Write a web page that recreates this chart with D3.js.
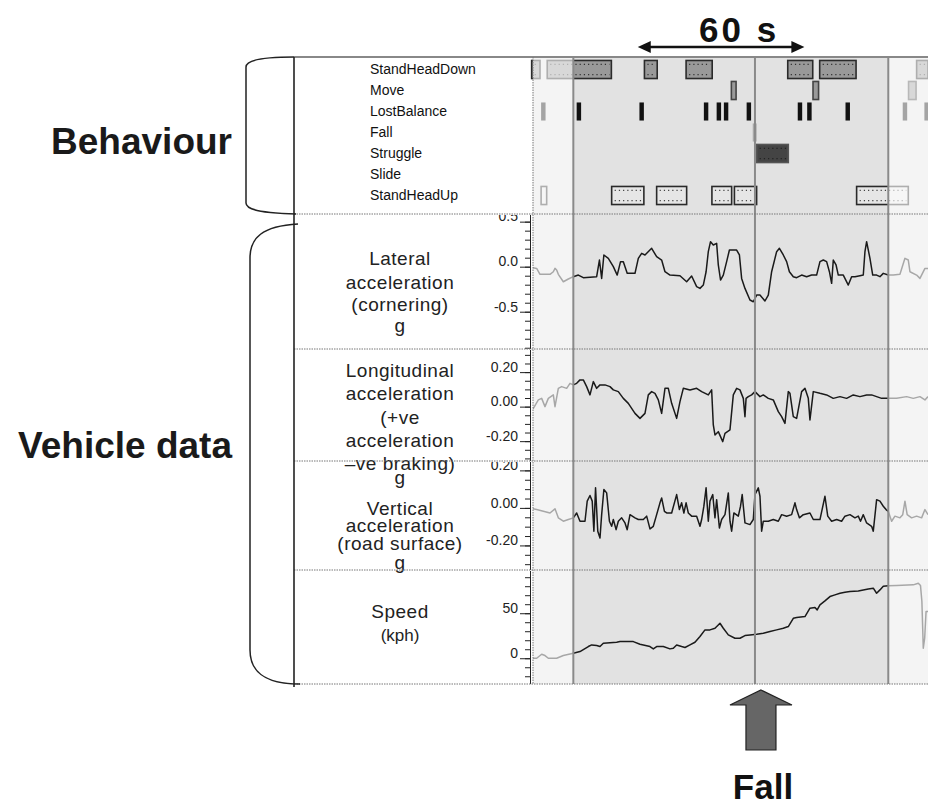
<!DOCTYPE html>
<html>
<head>
<meta charset="utf-8">
<script src="https://cdn.jsdelivr.net/npm/d3@7"></script>
<style>
  body { margin: 0; background: #fff; }
  svg { display: block; font-family: "Liberation Sans", Arial, sans-serif; }
</style>
</head>
<body>
<svg id="chart" width="928" height="805"></svg>
<script>
// ---- data (time in seconds) ----
const behaviours = ["StandHeadDown", "Move", "LostBalance", "Fall", "Struggle", "Slide", "StandHeadUp"];

const standHeadDown = [[0.6, 3.6], [6.2, 29.3], [41.2, 45.8], [56.2, 65.6], [92.8, 101.8], [104.3, 117.4], [139.2, 143.3]];
const move = [[72.5, 74.2], [101.9, 103.9], [136.3, 139.0]];
const lostBalance = [4.8, 17.6, 40.2, 63.4, 68.0, 70.6, 78.8, 97.2, 100.6, 114.4, 135.0, 142.8];
const fall = [[80.2, 81.6]];
const struggle = [[81.6, 93.0]];
const slide = [];
const standHeadUp = [[4.0, 6.0], [29.4, 41.0], [45.6, 56.4], [65.5, 72.6], [73.6, 81.6], [117.6, 136.2]];

const highlight = [15.6, 129.0];
const fallTime = 81.0;
const spanStart = 38.8, spanLength = 60;

const lateral = [[0,-0.007],[2.4,-0.019],[3.6,-0.085],[7.2,-0.085],[8.4,-0.056],[9.0,-0.019],[9.6,-0.037],[10.2,-0.085],
  [12.0,-0.167],[13.8,-0.137],[15.6,-0.111],[17.4,-0.093],[19.2,-0.122],[24.0,-0.111],[25.0,0.074],[25.8,-0.13],
  [26.6,0.13],[28.2,0.093],[30.0,0],[31.4,-0.093],[32.6,0.056],[33.6,0.056],[35.0,-0.074],[37.8,-0.074],[39.0,0.093],
  [40.2,0.148],[41.4,0.13],[43.8,0.204],[45.6,0.111],[47.4,0.074],[48.6,-0.056],[50.4,-0.093],[54.0,-0.1],[56.4,-0.167],
  [58.2,-0.104],[60.0,-0.222],[61.2,-0.241],[62.4,-0.204],[63.4,-0.056],[64.2,0.167],[65.0,0.278],[66.0,0.241],
  [67.2,0.259],[67.8,0.019],[68.6,-0.148],[69.6,-0.093],[70.8,0.056],[71.8,0.185],[74.4,0.185],[75.4,0.13],
  [76.2,-0.13],[77.4,-0.241],[79.2,-0.37],[80.4,-0.389],[81.6,-0.315],[82.8,-0.315],[84.6,-0.381],[85.8,-0.315],
  [87.0,-0.056],[88.8,0.167],[89.8,0.204],[91.2,0.13],[92.4,0.056],[93.4,-0.056],[94.8,-0.111],[96.0,-0.122],
  [97.8,-0.093],[99.6,-0.111],[101.4,-0.093],[103.2,-0.093],[104.4,0.056],[105.6,0.074],[106.8,0.056],[107.8,-0.056],
  [108.6,-0.185],[109.2,0.074],[110.2,0.019],[111.0,-0.093],[112.8,-0.093],[114.6,-0.204],[115.8,-0.111],[117.0,-0.111],
  [118.8,-0.1],[120.0,-0.093],[120.6,0.167],[121.2,0.278],[122.4,0.093],[123.4,-0.093],[124.8,-0.093],[126.0,-0.111],
  [127.2,-0.074],[129.0,-0.093],[130.8,-0.093],[133.2,-0.085],[135.0,0.093],[136.2,0.074],[136.8,-0.056],[139.2,-0.093],
  [140.4,-0.13],[142.2,-0.019],[143.3,-0.019]];

const longitudinal = [[0,0],[1.2,-0.01],[3.0,0.039],[4.2,0.048],[5.4,0],[6.6,0.048],[8.4,0.068],[9.0,0],[10.2,0.106],
  [11.4,0.116],[13.2,0.106],[14.4,0.135],[15.6,0.126],[16.8,0.135],[18.0,0.155],[19.2,0.155],[20.4,0.116],[21.6,0.068],
  [22.8,0.145],[24.0,0.106],[25.2,0.126],[27.0,0.126],[28.8,0.116],[30.0,0.097],[31.8,0.087],[33.6,0.048],[35.4,0.019],
  [36.6,-0.01],[37.8,-0.039],[39.6,-0.068],[41.4,-0.039],[42.6,0.068],[43.8,0.087],[45.0,0.077],[46.2,0.039],
  [47.4,-0.039],[48.6,0.106],[49.8,0.106],[51.0,0.019],[52.8,-0.068],[54.0,0.029],[55.2,0.106],[57.6,0.097],[60.0,0.106],
  [61.8,0.087],[64.2,0.068],[65.4,0.097],[66.0,-0.106],[66.6,-0.164],[67.8,-0.145],[69.4,-0.203],[70.2,-0.155],
  [72.0,-0.135],[73.2,0.068],[74.4,0.106],[75.6,0.097],[76.8,0.048],[77.4,-0.058],[77.8,0.048],[78.6,0.058],[79.8,0.068],
  [81.0,0.087],[82.8,0.058],[84.0,0.068],[85.8,0.048],[87.6,0.039],[89.4,-0.029],[90.6,-0.058],[91.8,-0.097],[93.0,0.087],
  [93.6,0.077],[94.8,-0.058],[96.0,-0.068],[97.8,0.087],[99.0,0.106],[100.2,0.048],[100.8,-0.077],[102.0,0.087],
  [104.4,0.077],[106.8,0.068],[109.2,0.048],[111.6,0.058],[114.0,0.048],[116.4,0.068],[118.8,0.058],[121.2,0.068],
  [123.0,0.068],[124.8,0.058],[126.6,0.048],[129.0,0.048],[132.0,0.048],[135.6,0.058],[138.0,0.048],[140.4,0.058],
  [142.2,0.039],[143.3,0.058]];

const vertical = [[0,0],[2.4,-0.009],[4.8,-0.018],[7.2,-0.027],[9.0,-0.005],[10.2,-0.053],[12.0,-0.071],[13.8,-0.062],
  [15.6,-0.053],[16.8,-0.027],[18.0,-0.071],[19.8,-0.071],[20.6,0.036],[21.6,0.066],[22.4,0.036],[23.0,-0.124],
  [23.6,0.107],[24.4,-0.124],[25.2,-0.16],[25.8,-0.036],[26.6,0.098],[27.6,0.08],[28.6,-0.071],[29.4,-0.098],
  [30.0,-0.062],[31.0,-0.116],[31.8,-0.071],[33.0,-0.053],[34.2,-0.08],[35.0,-0.116],[36.0,-0.036],[37.8,-0.053],
  [39.0,-0.062],[40.8,-0.062],[42.0,-0.044],[43.2,-0.112],[44.4,-0.098],[45.6,-0.036],[46.8,0.027],[47.4,0.053],
  [48.4,-0.018],[49.2,-0.027],[51.0,-0.027],[52.8,0.071],[53.8,-0.009],[54.6,0.027],[55.4,-0.027],[56.2,0.027],
  [57.0,-0.027],[58.2,-0.044],[60.0,-0.044],[61.2,-0.098],[61.8,-0.062],[62.6,0.009],[63.4,0.107],[64.2,-0.071],
  [64.8,0.036],[65.8,0.071],[66.6,-0.053],[67.2,0.044],[68.2,-0.107],[69.0,-0.062],[70.2,-0.036],[71.4,0.08],
  [72.0,-0.071],[72.6,-0.124],[73.4,-0.027],[75.0,-0.044],[75.8,0.009],[76.4,0.071],[77.4,-0.08],[79.2,-0.089],
  [80.4,-0.062],[81.0,0.071],[82.2,0.107],[82.8,0.062],[83.4,-0.124],[84.0,-0.071],[85.8,-0.071],[87.6,-0.062],
  [89.4,-0.071],[90.6,-0.036],[92.4,-0.044],[94.2,-0.036],[95.4,0.027],[96.0,-0.009],[97.0,-0.053],[98.4,-0.036],
  [100.8,-0.027],[102.0,-0.062],[104.4,-0.062],[106.2,0.062],[107.2,-0.044],[108.6,-0.071],[110.4,-0.062],
  [112.2,-0.071],[113.4,-0.044],[115.2,-0.036],[117.0,-0.053],[118.2,-0.044],[119.0,-0.071],[120.0,-0.036],
  [121.2,-0.08],[123.0,-0.098],[123.6,-0.124],[124.8,0.044],[126.0,0.036],[127.2,0.009],[128.2,-0.009],[129.0,-0.018],
  [130.2,-0.071],[131.4,-0.044],[133.2,-0.053],[134.2,-0.036],[135.0,0.036],[135.8,-0.036],[137.4,-0.053],
  [139.2,-0.044],[141.0,-0.053],[142.2,-0.009],[143.3,-0.036]];

const speed = [[0,0],[2.4,0],[4.2,4.4],[5.4,3.0],[6.6,0],[9.6,0],[12.0,3.0],[15.6,5.6],[18.0,7.4],[21.0,13.0],
  [22.2,14.8],[24.0,14.1],[25.2,13.0],[26.4,16.7],[31.2,17.8],[32.4,18.5],[37.2,18.5],[39.6,15.6],[43.2,13.0],
  [44.4,10.4],[45.6,13.0],[48.0,13.0],[50.4,10.4],[51.6,11.1],[52.8,14.8],[54.6,13.0],[55.8,11.9],[57.6,14.8],
  [59.4,17.8],[61.2,24.1],[63.0,31.5],[64.8,31.5],[66.6,33.3],[68.4,38.9],[69.6,33.3],[71.4,25.9],[73.8,22.2],
  [75.6,22.2],[77.4,25.2],[79.2,25.9],[81.6,26.7],[84.0,27.8],[86.4,29.6],[88.8,31.5],[91.2,33.3],[93.0,35.2],
  [94.8,44.4],[96.0,45.2],[99.0,46.3],[100.8,55.6],[102.6,56.3],[103.4,53.7],[104.4,59.3],[106.2,63.7],[108.0,68.5],
  [109.8,70.4],[111.6,72.2],[113.4,73.3],[115.2,74.1],[118.2,74.8],[120.0,75.9],[121.8,77.0],[123.6,77.8],[124.8,72.2],
  [126.0,75.9],[127.2,80.0],[129.0,80.4],[132.0,80.7],[138.0,81.5],[139.8,83.3],[140.6,80.7],[141.1,63.0],[141.6,11.1],
  [142.1,22.2],[142.6,51.9],[143.3,51.9]];

// ---- layout ----
const svg = d3.select("#chart");
const plotLeft = 533, plotRight = 928, frameTop = 57, frameBottom = 684;
const x = d3.scaleLinear().domain([0, 143.3]).range([530, 928]);

const panels = [
  { data: lateral, top: 214, bottom: 349, domain: [-0.914, 0.585], major: [-0.5, 0, 0.5], minor: 0.1, digits: 1,
    label: [["Lateral", 265], ["acceleration", 289], ["(cornering)", 311], ["g", 332]] },
  { data: longitudinal, top: 349, bottom: 461, domain: [-0.315, 0.334], major: [-0.2, 0, 0.2], minor: 0.05, digits: 2,
    label: [["Longitudinal", 377], ["acceleration", 400], ["(+ve", 424], ["acceleration", 447], ["\u2013ve braking)", 470], ["g", 484]] },
  { data: vertical, top: 461, bottom: 570, domain: [-0.331, 0.25], major: [-0.2, 0, 0.2], minor: 0.05, digits: 2,
    label: [["Vertical", 515], ["acceleration", 532], ["(road surface)", 550], ["g", 569]] },
  { data: speed, top: 570, bottom: 684, domain: [-28.6, 98], major: [0, 50], minor: 10, digits: 0,
    label: [["Speed", 618], ["(kph)", 641]] }
];

const defs = svg.append("defs");

// plot background
svg.append("rect")
  .attr("x", plotLeft).attr("y", frameTop)
  .attr("width", plotRight - plotLeft).attr("height", frameBottom - frameTop)
  .attr("fill", "#e2e2e2");

// ---- behaviour panel ----
const band = d3.scaleBand().domain(behaviours).range([59, 206]).paddingInner(0.14).paddingOuter(0.07);

const styles = {
  StandHeadDown: { fill: "#999", stroke: "#2a2a2a", dots: "#333" },
  Move: { fill: "#9a9a9a", stroke: "#444", dots: null },
  Fall: { fill: "#aaa", stroke: "none", dots: null },
  Struggle: { fill: "#444", stroke: "#555", dots: "#222" },
  Slide: { fill: "#999", stroke: "#333", dots: null },
  StandHeadUp: { fill: "#e6e6e6", stroke: "#2a2a2a", dots: "#444" }
};
const intervals = { StandHeadDown: standHeadDown, Move: move, Fall: fall, Struggle: struggle, Slide: slide, StandHeadUp: standHeadUp };

const bg = svg.append("g");
Object.keys(intervals).forEach(name => {
  const st = styles[name];
  const y0 = band(name), h = band.bandwidth();
  intervals[name].forEach(([a, b]) => {
    bg.append("rect")
      .attr("x", x(a)).attr("y", y0)
      .attr("width", x(b) - x(a)).attr("height", h)
      .attr("fill", st.fill).attr("stroke", st.stroke).attr("stroke-width", 1.6);
    if (st.dots && x(b) - x(a) > 6) {
      [y0 + 4, y0 + h - 4].forEach(yy => {
        bg.append("line")
          .attr("x1", x(a) + 3).attr("x2", x(b) - 2)
          .attr("y1", yy).attr("y2", yy)
          .attr("stroke", st.dots).attr("stroke-width", 1.2)
          .attr("stroke-dasharray", "1.2,3");
      });
    }
  });
});
bg.selectAll(".lb").data(lostBalance).join("rect")
  .attr("x", d => x(d - 0.8)).attr("y", band("LostBalance"))
  .attr("width", d => x(d + 0.8) - x(d - 0.8)).attr("height", band.bandwidth())
  .attr("fill", "#111");

svg.append("g").selectAll("text").data(behaviours).join("text")
  .attr("x", 370).attr("y", d => band(d) + band.bandwidth() / 2)
  .attr("dy", "0.35em")
  .attr("font-size", 14).attr("fill", "#111")
  .text(d => d);

// ---- data panels ----
panels.forEach((p, i) => {
  const y = d3.scaleLinear().domain(p.domain).range([p.bottom, p.top]);

  defs.append("clipPath").attr("id", "clip" + i).append("rect")
    .attr("x", plotLeft).attr("y", p.top)
    .attr("width", plotRight - plotLeft).attr("height", p.bottom - p.top);
  defs.append("clipPath").attr("id", "aclip" + i).append("rect")
    .attr("x", 470).attr("y", p.top + 1)
    .attr("width", 64).attr("height", p.bottom - p.top - 1);

  const line = d3.line().x(d => x(d[0])).y(d => y(d[1]));
  svg.append("path")
    .datum(p.data)
    .attr("clip-path", `url(#clip${i})`)
    .attr("fill", "none").attr("stroke", "#1a1a1a")
    .attr("stroke-width", 1.5).attr("stroke-linejoin", "round")
    .attr("d", line);

  const lo = Math.ceil(p.domain[0] / p.minor), hi = Math.floor(p.domain[1] / p.minor);
  const minorTicks = d3.range(lo, hi + 1).map(k => +(k * p.minor).toFixed(3));

  // clip on the outer group (no transform), axis inside it
  const ax = svg.append("g").attr("clip-path", `url(#aclip${i})`)
    .append("g").attr("transform", "translate(530,0)");
  ax.append("g")
    .call(d3.axisLeft(y).tickValues(minorTicks).tickSize(5).tickSizeOuter(0).tickFormat(""))
    .call(g => g.selectAll("line,path").attr("stroke", "#222"));
  ax.append("g")
    .call(d3.axisLeft(y).tickValues(p.major).tickSize(10).tickSizeOuter(0).tickPadding(2)
      .tickFormat(d => d.toFixed(p.digits)))
    .call(g => g.select(".domain").remove())
    .call(g => g.selectAll("line").attr("stroke", "#222"))
    .call(g => g.selectAll("text").attr("dy", "-0.05em").attr("font-size", 14)
      .attr("fill", "#222").attr("font-family", "Liberation Sans, Arial, sans-serif"));

  svg.append("g").selectAll("text").data(p.label).join("text")
    .attr("x", 400).attr("y", d => d[1])
    .attr("text-anchor", "middle")
    .attr("font-size", d => d[0] === "(kph)" ? 17 : 19)
    .attr("letter-spacing", d => d[0] === "(kph)" ? 0 : 0.5)
    .attr("fill", "#222")
    .text(d => d[0]);
});

// fade outside highlighted window
[[plotLeft, x(highlight[0])], [x(highlight[1]), plotRight]].forEach(([a, b]) => {
  svg.append("rect")
    .attr("x", a).attr("y", frameTop)
    .attr("width", b - a).attr("height", frameBottom - frameTop)
    .attr("fill", "#fff").attr("opacity", 0.62);
});

// vertical markers
[highlight[0], fallTime, highlight[1]].forEach(t => {
  svg.append("line")
    .attr("x1", x(t)).attr("x2", x(t))
    .attr("y1", frameTop).attr("y2", frameBottom)
    .attr("stroke", "#8a8a8a").attr("stroke-width", 2);
});

// frame and separators
svg.append("line").attr("x1", 294).attr("x2", 928).attr("y1", frameTop).attr("y2", frameTop)
  .attr("stroke", "#888").attr("stroke-width", 2);
[214, 349, 461, 570, 684].forEach(yy => {
  svg.append("line").attr("x1", 294).attr("x2", 928).attr("y1", yy).attr("y2", yy)
    .attr("stroke", "#777").attr("stroke-width", 1).attr("stroke-dasharray", "1.5,1");
});
svg.append("line").attr("x1", plotLeft).attr("x2", plotLeft).attr("y1", frameTop).attr("y2", frameBottom)
  .attr("stroke", "#777").attr("stroke-dasharray", "1.5,1");
svg.append("line").attr("x1", 294).attr("x2", 294).attr("y1", frameTop).attr("y2", 687)
  .attr("stroke", "#222").attr("stroke-width", 1.6);

// braces
svg.append("path")
  .attr("d", "M294,57 C262,57 246,60 246,67 L246,203 C246,210 262,213 296,214")
  .attr("fill", "none").attr("stroke", "#222").attr("stroke-width", 1.5);
svg.append("path")
  .attr("d", "M298,224 C262,226 250,238 250,258 L250,650 C250,670 262,684 300,684")
  .attr("fill", "none").attr("stroke", "#222").attr("stroke-width", 1.5);

// side labels
svg.append("text").attr("x", 232).attr("y", 154).attr("text-anchor", "end")
  .attr("font-size", 37).attr("font-weight", "bold").attr("fill", "#1a1a1a").text("Behaviour");
svg.append("text").attr("x", 232).attr("y", 458).attr("text-anchor", "end")
  .attr("font-size", 37).attr("font-weight", "bold").attr("fill", "#1a1a1a").text("Vehicle data");

// 60 s span arrow
const ax0 = x(spanStart), ax1 = x(spanStart + spanLength), ay = 47;
svg.append("line").attr("x1", ax0 + 8).attr("x2", ax1 - 8).attr("y1", ay).attr("y2", ay)
  .attr("stroke", "#111").attr("stroke-width", 2.5);
svg.append("path").attr("d", `M${ax0},${ay} L${ax0 + 13},${ay - 6} L${ax0 + 13},${ay + 6} Z`).attr("fill", "#111");
svg.append("path").attr("d", `M${ax1},${ay} L${ax1 - 13},${ay - 6} L${ax1 - 13},${ay + 6} Z`).attr("fill", "#111");
svg.append("text").attr("x", (ax0 + ax1) / 2 + 18).attr("y", 42).attr("text-anchor", "middle")
  .attr("font-size", 35).attr("font-weight", "bold").attr("letter-spacing", 3).attr("fill", "#111").text("60 s");

// fall arrow
const fx = x(fallTime) + 6;
svg.append("path")
  .attr("d", `M${fx},690 L${fx + 31},705 L${fx + 15},705 L${fx + 15},750 L${fx - 15},750 L${fx - 15},705 L${fx - 31},705 Z`)
  .attr("fill", "#666").attr("stroke", "#222").attr("stroke-width", 1.2);
svg.append("text").attr("x", fx + 2).attr("y", 799).attr("text-anchor", "middle")
  .attr("font-size", 35).attr("font-weight", "bold").attr("fill", "#111").text("Fall");
</script>
</body>
</html>
